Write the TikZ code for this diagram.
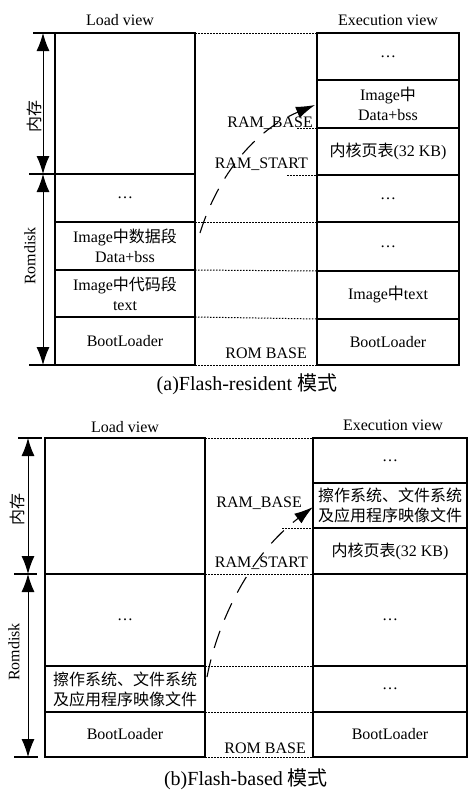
\documentclass[tikz,border=0pt]{standalone}
\usepackage{fontspec}
\setmainfont{Liberation Serif}
\newfontfamily\cjk{Noto Sans CJK SC}
\usetikzlibrary{arrows.meta}
\begin{document}
\begin{tikzpicture}[x=1pt,y=-1pt,
  every node/.style={font=\fontsize{16}{20}\selectfont},
  cell/.style={draw, line width=1.2pt, align=center, inner sep=0pt, outer sep=0pt, minimum width=#1},
  dotline/.style={line width=1pt, dash pattern=on 1.5pt off 1.5pt},
  dimline/.style={line width=1pt, {Latex[length=18pt,width=13pt]}-{Latex[length=18pt,width=13pt]}},
  tick/.style={line width=1.2pt},
  movearrow/.style={line width=1.1pt, dash pattern=on 18pt off 12pt, -{Latex[length=19pt,width=12pt]}},
  addr/.style={anchor=base east, inner sep=0pt},
  side/.style={rotate=90, inner sep=0pt},
  caption/.style={font=\fontsize{20}{24}\selectfont, anchor=base, inner sep=0pt},
  head/.style={anchor=base, inner sep=0pt}
]
\useasboundingbox (0,0) rectangle (468,795);

% ================= (a) Flash-resident =================
\node[head] (lva) at (120,25) {Load view};
\node[head] (eva) at (388,25) {Execution view};

% left column
\node[cell=140pt, minimum height=141pt] (L1) at (125,103.5) {};
\node[cell=140pt, minimum height=48pt] (L2) at (125,198) {\dots};
\node[cell=140pt, minimum height=48pt] (L3) at (125,246) {Image{\cjk 中数据段}\\Data+bss};
\node[cell=140pt, minimum height=47pt] (L4) at (125,293.5) {Image{\cjk 中代码段}\\text};
\node[cell=140pt, minimum height=48pt] (L5) at (125,341) {BootLoader};

% right column
\node[cell=142pt, minimum height=47pt] (R1) at (388,56.5) {\dots};
\node[cell=142pt, minimum height=48pt] (R2) at (388,104) {Image{\cjk 中}\\Data+bss};
\node[cell=142pt, minimum height=47pt] (R3) at (388,151.5) {{\cjk 内核页表}(32 KB)};
\node[cell=142pt, minimum height=47pt] (R4) at (388,198.5) {\dots};
\node[cell=142pt, minimum height=49pt] (R5) at (388,246.5) {\dots};
\node[cell=142pt, minimum height=48pt] (R6) at (388,295) {Image{\cjk 中}text};
\node[cell=142pt, minimum height=46pt] (R7) at (388,342) {BootLoader};

% dotted guide lines
\draw[dotline] (L1.north east) -- (R1.north west);
\coordinate (rbA) at (297,128);
\draw[dotline] (rbA) -- (R2.south west);
\coordinate (rsA) at (287,175);
\draw[dotline] (rsA) -- (R3.south west);
\draw[dotline] (L2.south east) -- (R4.south west);
\draw[dotline] (L3.south east) -- (R5.south west);
\draw[dotline] (L4.south east) -- (R6.south west);
\draw[dotline] (L5.south east) -- (R7.south west);

% address labels
\node[addr] (rba) at (313,127) {RAM\_BASE};
\node[addr] (rsa) at (308,168) {RAM\_START};
\node[addr] (roa) at (307,358) {ROM BASE};

% dimension marks
\draw[tick] (L1.north west) -- ++(-22,0);
\draw[tick] (L2.north west) -- ++(-26,0);
\draw[tick] (L5.south west) -- ++(-26,0);
\coordinate (dA1) at (43,33);
\coordinate (dA2) at (43,174);
\coordinate (dA3) at (43,365);
\draw[dimline] (dA1) -- (dA2);
\draw[dimline] (dA2) -- (dA3);
\node[side] (ncA) at (34,116) {\cjk 内存};
\node[side] (rdA) at (30,256) {Romdisk};

% move arrow
\coordinate (mvA1) at (200,233);
\coordinate (mvA2) at (315,105);
\draw[movearrow] (mvA1) .. controls (218,175) and (255,130) .. (mvA2);

\node[caption] (capa) at (247,390) {(a)Flash-resident {\cjk 模式}};

% ================= (b) Flash-based =================
\node[head] (lvb) at (125,432) {Load view};
\node[head] (evb) at (393,430) {Execution view};

% left column
\node[cell=160pt, minimum height=136pt] (BL1) at (125,506) {};
\node[cell=160pt, minimum height=92pt] (BL2) at (125,620) {\dots};
\node[cell=160pt, minimum height=46pt] (BL3) at (125,689) {\cjk 擦作系统、文件系统\\\cjk 及应用程序映像文件};
\node[cell=160pt, minimum height=45pt] (BL4) at (125,734.5) {BootLoader};

% right column
\node[cell=154pt, minimum height=45pt] (BR1) at (390,460.5) {\dots};
\node[cell=154pt, minimum height=45pt] (BR2) at (390,505.5) {\cjk 擦作系统、文件系统\\\cjk 及应用程序映像文件};
\node[cell=154pt, minimum height=46pt] (BR3) at (390,551) {{\cjk 内核页表}(32 KB)};
\node[cell=154pt, minimum height=92pt] (BR4) at (390,620) {\dots};
\node[cell=154pt, minimum height=46pt] (BR5) at (390,689) {\dots};
\node[cell=154pt, minimum height=45pt] (BR6) at (390,734.5) {BootLoader};

% dotted guide lines
\draw[dotline] (BL1.north east) -- (BR1.north west);
\coordinate (rbB) at (282,528);
\draw[dotline] (rbB) -- (BR2.south west);
\draw[dotline] (BL1.south east) -- (BR3.south west);
\draw[dotline] (BL2.south east) -- (BR4.south west);
\draw[dotline] (BL3.south east) -- (BR5.south west);
\draw[dotline] (BL4.south east) -- (BR6.south west);

% address labels
\node[addr] (rbb) at (302,507) {RAM\_BASE};
\node[addr] (rsb) at (308,567) {RAM\_START};
\node[addr] (rob) at (306,753) {ROM BASE};

% dimension marks
\coordinate (tB1) at (18,438);
\coordinate (tB1e) at (42,438);
\draw[tick] (tB1) -- (tB1e);
\coordinate (tB2) at (14,574);
\coordinate (tB2e) at (37,574);
\draw[tick] (tB2) -- (tB2e);
\coordinate (tB3) at (14,757);
\coordinate (tB3e) at (38,757);
\draw[tick] (tB3) -- (tB3e);
\coordinate (dB1) at (28,438);
\coordinate (dB2) at (28,574);
\coordinate (dB3) at (28,757);
\draw[dimline] (dB1) -- (dB2);
\draw[dimline] (dB2) -- (dB3);
\node[side] (ncB) at (17,509) {\cjk 内存};
\node[side] (rdB) at (14,652) {Romdisk};

% move arrow
\coordinate (mvB1) at (207,677);
\coordinate (mvB2) at (313,507);
\draw[movearrow] (mvB1) .. controls (218,620) and (250,555) .. (mvB2);

\node[caption] (capb) at (246,785) {(b)Flash-based {\cjk 模式}};
\end{tikzpicture}
\end{document}
